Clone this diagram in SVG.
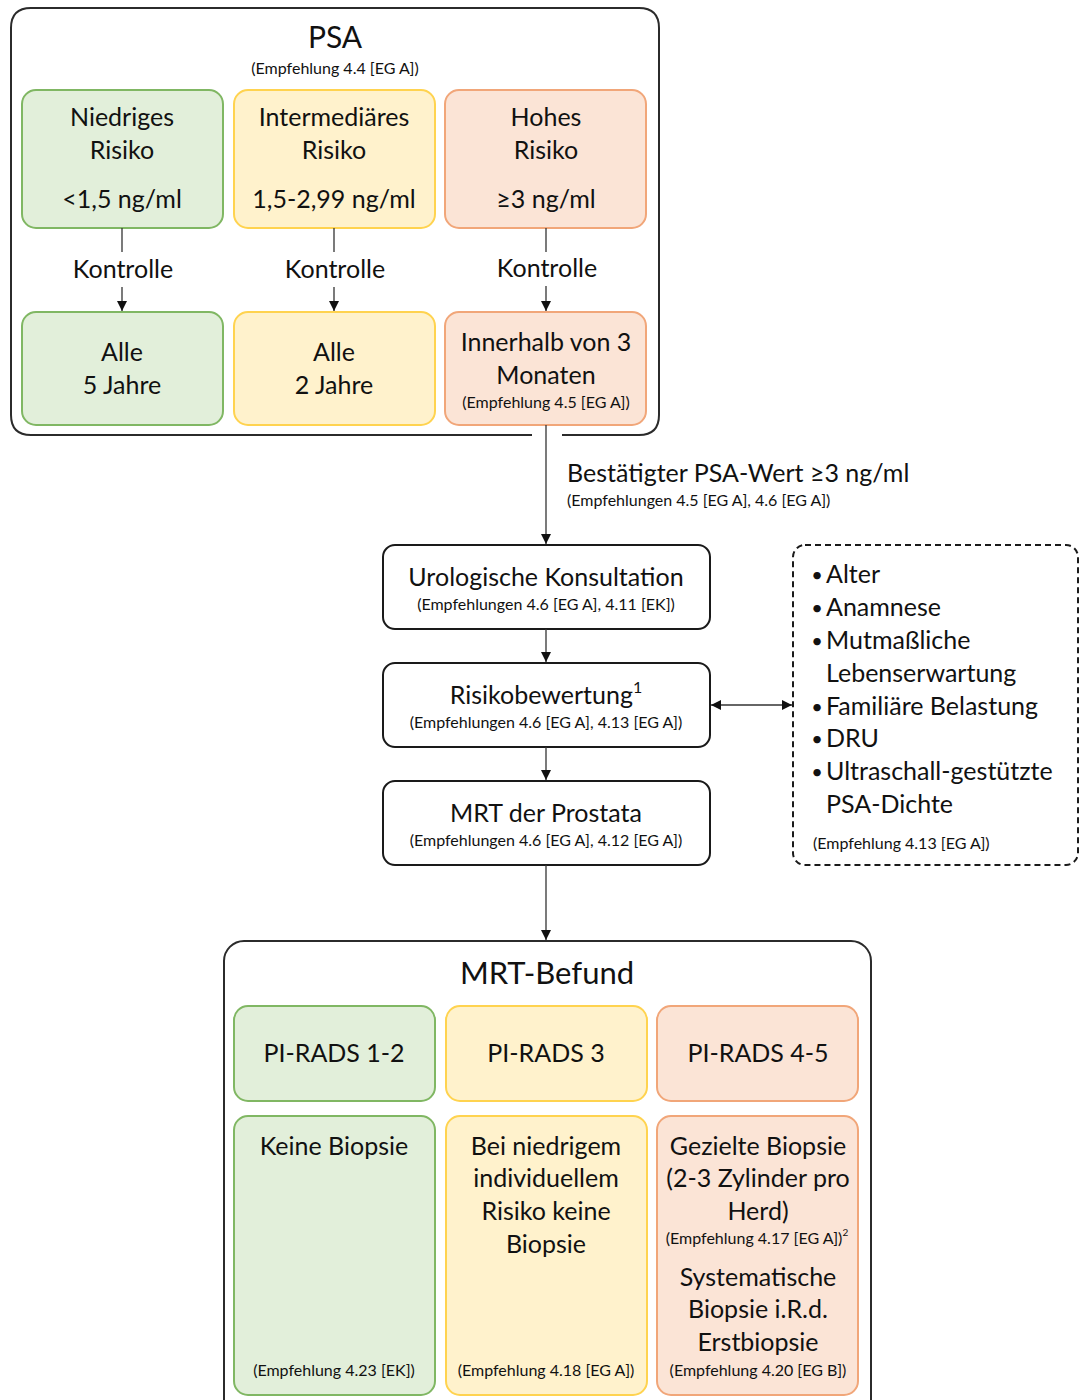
<svg xmlns="http://www.w3.org/2000/svg" width="1088" height="1400" viewBox="0 0 1088 1400">
<defs>
<marker id="arr" viewBox="0 0 10 10" refX="10" refY="5" markerWidth="10" markerHeight="10" markerUnits="userSpaceOnUse" orient="auto-start-reverse">
<path d="M0,0 L10,5 L0,10 Z" fill="#111"/>
</marker>
</defs>
<style>
text{font-family:Lato,"Open Sans","Liberation Sans",sans-serif;fill:#111;text-anchor:middle;dominant-baseline:central}
.big{font-size:25px}
.sm{font-size:16px}
.ttl{font-size:30px}
.ttl2{font-size:31px}
.outer{fill:#ffffff;stroke:#2b2b2b;stroke-width:2}
.g{fill:#e2efda;stroke:#80b763;stroke-width:2}
.y{fill:#fff2cc;stroke:#ffd34f;stroke-width:2}
.o{fill:#fbe4d6;stroke:#f1a679;stroke-width:2}
.w{fill:#ffffff;stroke:#1a1a1a;stroke-width:2}
.dash{fill:#ffffff;stroke:#1a1a1a;stroke-width:2;stroke-dasharray:6 4}
.ln{stroke:#333;stroke-width:1.3;fill:none}
.bl{text-anchor:start}
.bul{font-size:20px}
</style>
<rect width="1088" height="1400" fill="#ffffff"/>

<g id="psa">
<path class="outer" d="M532,435 L31,435 Q11,435 11,415 L11,28 Q11,8 31,8 L639,8 Q659,8 659,28 L659,415 Q659,435 639,435 L562,435"/>
<text class="ttl" x="335" y="36">PSA</text>
<text class="sm" x="335" y="67">(Empfehlung 4.4 [EG A])</text>
</g>

<g id="niedrig">
<rect class="g" x="22" y="90" width="201" height="138" rx="14"/>
<text class="big" x="122" y="116">Niedriges</text>
<text class="big" x="122" y="149">Risiko</text>
<text class="big" x="122" y="198">&lt;1,5 ng/ml</text>
</g>
<g id="intermediaer">
<rect class="y" x="234" y="90" width="201" height="138" rx="14"/>
<text class="big" x="334" y="116">Intermediäres</text>
<text class="big" x="334" y="149">Risiko</text>
<text class="big" x="334" y="198">1,5-2,99 ng/ml</text>
</g>
<g id="hoch">
<rect class="o" x="445" y="90" width="201" height="138" rx="14"/>
<text class="big" x="546" y="116">Hohes</text>
<text class="big" x="546" y="149">Risiko</text>
<text class="big" x="546" y="198">≥3 ng/ml</text>
</g>

<g id="alle5">
<rect class="g" x="22" y="312" width="201" height="113" rx="14"/>
<text class="big" x="122" y="351">Alle</text>
<text class="big" x="122" y="384">5 Jahre</text>
</g>
<g id="alle2">
<rect class="y" x="234" y="312" width="201" height="113" rx="14"/>
<text class="big" x="334" y="351">Alle</text>
<text class="big" x="334" y="384">2 Jahre</text>
</g>
<g id="innerhalb">
<rect class="o" x="445" y="312" width="201" height="113" rx="14"/>
<text class="big" x="546" y="341">Innerhalb von 3</text>
<text class="big" x="546" y="374">Monaten</text>
<text class="sm" x="546" y="401">(Empfehlung 4.5 [EG A])</text>
</g>

<g id="uro">
<rect class="w" x="383" y="545" width="327" height="84" rx="12"/>
<text class="big" x="546" y="576">Urologische Konsultation</text>
<text class="sm" x="546" y="603">(Empfehlungen 4.6 [EG A], 4.11 [EK])</text>
</g>
<g id="risiko">
<rect class="w" x="383" y="663" width="327" height="84" rx="12"/>
<text class="big" x="546" y="694">Risikobewertung<tspan font-size="16" dy="-8">1</tspan></text>
<text class="sm" x="546" y="721">(Empfehlungen 4.6 [EG A], 4.13 [EG A])</text>
</g>
<g id="mrt">
<rect class="w" x="383" y="781" width="327" height="84" rx="12"/>
<text class="big" x="546" y="812">MRT der Prostata</text>
<text class="sm" x="546" y="839">(Empfehlungen 4.6 [EG A], 4.12 [EG A])</text>
</g>

<g id="faktoren">
<rect class="dash" x="793" y="545" width="285" height="320" rx="12"/>
<text class="bul" x="817" y="574">•</text><text class="big bl" x="826" y="573">Alter</text>
<text class="bul" x="817" y="607">•</text><text class="big bl" x="826" y="606">Anamnese</text>
<text class="bul" x="817" y="640">•</text><text class="big bl" x="826" y="639">Mutmaßliche</text>
<text class="big bl" x="826" y="672">Lebenserwartung</text>
<text class="bul" x="817" y="706">•</text><text class="big bl" x="826" y="705">Familiäre Belastung</text>
<text class="bul" x="817" y="738">•</text><text class="big bl" x="826" y="737">DRU</text>
<text class="bul" x="817" y="771">•</text><text class="big bl" x="826" y="770">Ultraschall-gestützte</text>
<text class="big bl" x="826" y="803">PSA-Dichte</text>
<text class="sm bl" x="813" y="842">(Empfehlung  4.13 [EG A])</text>
</g>

<g id="mrtbefund">
<rect class="outer" x="224" y="941" width="647" height="480" rx="20"/>
<text class="ttl2" x="547" y="972">MRT-Befund</text>
</g>
<g id="pirads12">
<rect class="g" x="234" y="1006" width="201" height="95" rx="14"/>
<text class="big" x="334" y="1052">PI-RADS 1-2</text>
</g>
<g id="pirads3">
<rect class="y" x="446" y="1006" width="201" height="95" rx="14"/>
<text class="big" x="546" y="1052">PI-RADS 3</text>
</g>
<g id="pirads45">
<rect class="o" x="657" y="1006" width="201" height="95" rx="14"/>
<text class="big" x="758" y="1052">PI-RADS 4-5</text>
</g>
<g id="keine">
<rect class="g" x="234" y="1116" width="201" height="279" rx="14"/>
<text class="big" x="334" y="1145">Keine Biopsie</text>
<text class="sm" x="334" y="1369">(Empfehlung 4.23 [EK])</text>
</g>
<g id="niedrigem">
<rect class="y" x="446" y="1116" width="201" height="279" rx="14"/>
<text class="big" x="546" y="1145">Bei niedrigem</text>
<text class="big" x="546" y="1177">individuellem</text>
<text class="big" x="546" y="1210">Risiko keine</text>
<text class="big" x="546" y="1243">Biopsie</text>
<text class="sm" x="546" y="1369">(Empfehlung 4.18 [EG A])</text>
</g>
<g id="gezielt">
<rect class="o" x="657" y="1116" width="201" height="279" rx="14"/>
<text class="big" x="758" y="1145">Gezielte Biopsie</text>
<text class="big" x="758" y="1177">(2-3 Zylinder pro</text>
<text class="big" x="758" y="1210">Herd)</text>
<text class="sm" x="757" y="1237">(Empfehlung 4.17 [EG A])<tspan font-size="10" dy="-5">2</tspan></text>
<text class="big" x="758" y="1276">Systematische</text>
<text class="big" x="758" y="1308">Biopsie i.R.d.</text>
<text class="big" x="758" y="1341">Erstbiopsie</text>
<text class="sm" x="758" y="1369">(Empfehlung 4.20 [EG B])</text>
</g>

<g id="connectors">
<line class="ln" x1="122" y1="228" x2="122" y2="252"/>
<text class="big" x="123" y="268">Kontrolle</text>
<line class="ln" x1="122" y1="287" x2="122" y2="311" marker-end="url(#arr)"/>
<line class="ln" x1="334" y1="228" x2="334" y2="252"/>
<text class="big" x="335" y="268">Kontrolle</text>
<line class="ln" x1="334" y1="287" x2="334" y2="311" marker-end="url(#arr)"/>
<line class="ln" x1="546" y1="228" x2="546" y2="252"/>
<text class="big" x="547" y="267">Kontrolle</text>
<line class="ln" x1="546" y1="286" x2="546" y2="311" marker-end="url(#arr)"/>
<line class="ln" x1="546" y1="425" x2="546" y2="544" marker-end="url(#arr)"/>
<text class="big bl" x="567" y="472">Bestätigter PSA-Wert ≥3 ng/ml</text>
<text class="sm bl" x="567" y="499">(Empfehlungen 4.5 [EG A], 4.6 [EG A])</text>
<line class="ln" x1="546" y1="629" x2="546" y2="662" marker-end="url(#arr)"/>
<line class="ln" x1="546" y1="747" x2="546" y2="780" marker-end="url(#arr)"/>
<line class="ln" x1="546" y1="865" x2="546" y2="940" marker-end="url(#arr)"/>
<line class="ln" x1="711" y1="705" x2="792" y2="705" marker-start="url(#arr)" marker-end="url(#arr)"/>
</g>
</svg>
